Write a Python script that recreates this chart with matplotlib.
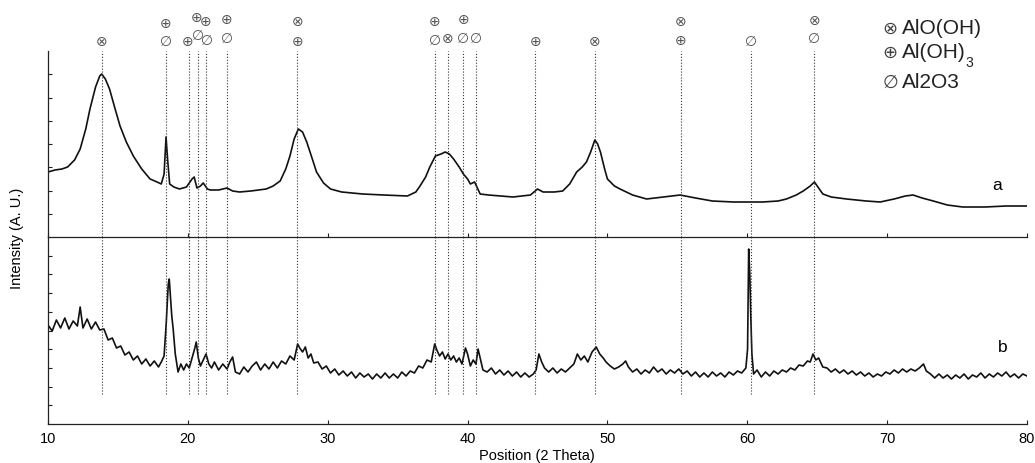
"""XRD patterns a / b with phase markers"""
import matplotlib; matplotlib.use('Agg')
import matplotlib.pyplot as plt; import numpy as np
import matplotlib.transforms as mtransforms
plt.rcParams['font.family']=['Liberation Sans','DejaVu Sans']

# pattern a (upper panel), intensity above its own baseline
a_x=[10.0,10.5,11.0,11.4,11.9,12.3,12.7,13.0,13.4,13.7,13.84,14.1,14.4,14.8,15.15,15.6,16.1,16.7,17.3,17.8,
     18.1,18.3,18.44,18.55,18.7,19.0,19.4,19.9,20.3,20.45,20.65,20.9,21.1,21.4,21.6,22.2,22.8,23.2,23.7,24.5,
     25.6,26.1,26.6,27.0,27.3,27.6,27.9,28.2,28.5,28.9,29.2,29.7,30.2,31.0,32.5,34.0,35.7,36.3,36.6,37.0,
     37.3,37.7,38.1,38.4,38.7,39.0,39.4,39.7,40.0,40.2,40.5,40.9,41.5,43.25,44.5,45.0,45.4,46.2,46.8,47.3,
     47.8,48.2,48.5,48.8,49.1,49.3,49.5,49.8,50.0,50.5,50.9,51.8,52.8,54.0,55.2,56.3,57.5,59.0,61.1,62.2,
     62.8,63.5,64.0,64.5,64.8,65.1,65.4,66.0,67.1,68.5,69.5,70.5,71.3,71.85,72.5,73.3,74.3,75.4,77.0,78.5,80.0]
a_y=[65,67,68,70,77,88,108,128,150,161,163,158,148,128,111,95,81,68,58,55,
     53,63,100,78,53,50,48,50,58,60,49,51,54,48,47,47,49,46,45,46,
     48,51,56,68,81,98,108,105,95,78,65,54,48,45,43,42,41,45,51,60,
     70,81,83,85,83,78,70,63,58,53,55,43,42,40,42,48,45,45,46,53,
     65,70,75,85,97,93,85,68,58,51,48,42,38,40,42,39,36,35,35,36,
     38,42,46,51,55,49,43,40,38,36,35,38,41,42,39,36,32,30,30,31,31]

# pattern b (lower panel)
b_x=[10.0,10.3,10.6,10.9,11.2,11.5,11.8,12.1,12.3,12.5,12.8,13.1,13.4,13.7,14.0,14.3,14.6,14.9,15.2,15.5,
     15.8,16.1,16.4,16.7,17.0,17.3,17.6,17.9,18.1,18.3,18.45,18.6,18.67,18.75,18.85,18.95,19.1,19.3,19.5,19.7,
     19.9,20.1,20.3,20.5,20.6,20.75,20.9,21.1,21.3,21.5,21.7,21.9,22.2,22.5,22.8,23.0,23.2,23.4,23.7,24.0,
     24.3,24.6,24.9,25.2,25.5,25.8,26.1,26.4,26.7,27.0,27.3,27.6,27.85,28.0,28.2,28.4,28.6,28.8,29.0,29.3,
     29.6,29.9,30.2,30.5,30.8,31.1,31.4,31.7,32.0,32.3,32.6,32.9,33.2,33.5,33.8,34.1,34.4,34.7,35.0,35.3,
     35.6,35.9,36.2,36.5,36.8,37.1,37.4,37.65,37.8,38.0,38.2,38.4,38.6,38.8,39.0,39.2,39.4,39.6,39.85,40.0,
     40.2,40.4,40.6,40.75,40.9,41.1,41.4,41.7,42.0,42.3,42.6,42.9,43.2,43.5,43.8,44.1,44.4,44.7,44.9,45.1,
     45.3,45.5,45.8,46.1,46.4,46.7,47.0,47.3,47.6,47.85,48.1,48.35,48.6,48.9,49.2,49.45,49.7,49.9,50.2,50.5,
     50.8,51.1,51.3,51.5,51.8,52.1,52.4,52.7,53.0,53.3,53.6,53.9,54.2,54.5,54.8,55.1,55.4,55.7,56.0,56.3,
     56.6,56.9,57.2,57.5,57.8,58.1,58.4,58.7,59.0,59.3,59.6,59.9,60.02,60.1,60.18,60.25,60.33,60.45,60.7,61.0,
     61.3,61.6,61.9,62.2,62.5,62.8,63.1,63.4,63.7,64.0,64.3,64.5,64.7,64.9,65.1,65.4,65.7,66.0,66.3,66.6,
     66.9,67.2,67.5,67.8,68.1,68.4,68.7,69.0,69.3,69.6,69.9,70.2,70.5,70.8,71.1,71.4,71.7,72.0,72.3,72.6,
     72.8,73.1,73.4,73.7,74.0,74.3,74.6,74.9,75.2,75.5,75.8,76.1,76.4,76.7,77.0,77.3,77.6,77.9,78.2,78.5,
     78.8,79.1,79.4,79.7,80.0]
b_y=[99,93,104,96,106,95,103,98,117,96,105,95,102,94,95,84,86,76,78,69,
     72,64,68,60,65,58,63,57,62,68,100,140,145,128,108,95,70,52,60,54,
     60,56,66,76,82,66,58,64,70,60,56,62,54,60,55,62,67,52,50,57,
     52,58,62,54,60,55,62,56,63,60,68,64,80,76,72,77,66,70,61,62,
     55,58,51,55,49,53,48,52,46,51,47,50,45,50,46,51,46,50,46,52,
     48,53,51,58,56,64,62,80,74,68,72,65,70,64,68,62,66,60,76,70,
     58,64,60,75,66,54,52,56,50,54,49,53,48,52,47,51,47,50,54,70,
     62,56,52,56,51,55,52,56,60,70,64,68,62,72,77,70,66,62,58,55,
     57,60,63,57,52,55,50,54,51,57,52,55,50,54,51,55,50,53,48,52,
     47,51,47,52,48,51,47,52,49,53,51,56,75,175,150,108,70,50,54,47,
     52,48,53,50,54,52,56,54,59,58,63,62,70,64,66,57,56,52,55,51,
     54,50,53,49,52,48,51,47,50,48,52,50,54,51,55,52,55,53,56,60,
     53,50,46,50,46,49,45,49,46,50,45,49,47,51,46,50,47,51,48,52,
     47,50,46,50,48]

# reference lines and their phase symbols
peak_pos=[13.84,18.44,20.1,20.72,21.27,22.78,27.83,37.67,38.58,39.7,40.6,44.84,49.11,55.26,60.24,64.79]
lab_x=[13.84,18.44,18.44,19.95,20.6,20.7,21.3,21.4,22.78,22.78,27.83,27.83,37.67,37.67,38.58,39.7,39.7,40.6,
       44.84,49.11,55.26,55.26,60.24,64.79,64.79]
lab_s=['⊗','⊕','∅','⊕','⊕','∅','⊕','∅','⊕','∅','⊗','⊕','⊕','∅','⊗','⊕','∅','∅',
       '⊕','⊗','⊗','⊕','∅','⊗','∅']
lab_px=[42,24,42,42,18,36,22,41,20,39,22,42,22,41,39,20,39,39,
        42,42,22,41,42,21,39]

W,H=1035,464
fig=plt.figure(figsize=(W/100,H/100),dpi=100)
L,R=48,1027; TOP,MID,BOT=52,238,425
axa=fig.add_axes([L/W,(H-MID)/H,(R-L)/W,(MID-TOP)/H])
axb=fig.add_axes([L/W,(H-BOT)/H,(R-L)/W,(BOT-MID)/H])
for ax in (axa,axb):
    for s in ('top','right'): ax.spines[s].set_visible(False)
    for s in ('left','bottom'): ax.spines[s].set_linewidth(0.9); ax.spines[s].set_color('#222')
    ax.set_xlim(10,80); ax.set_xticks(range(10,81,10))
    ax.tick_params(direction='in',length=3,width=0.8,color='#222',labelsize=10.5,pad=5)
    ax.patch.set_alpha(0)
axa.set_ylim(0,MID-TOP); axa.set_yticks(np.arange(1,8)*(MID-TOP)/8)
axb.set_ylim(0,BOT-MID); axb.set_yticks(np.arange(1,10)*(BOT-MID)/10)
axa.tick_params(labelbottom=False,labelleft=False)
axb.tick_params(labelleft=False)

axa.plot(a_x,a_y,color='#111',lw=1.2)
axb.plot(b_x,b_y,color='#111',lw=1.2)
for p in peak_pos:
    axa.axvline(p,color='#333',ls=':',lw=0.8)
    axb.axvline(p,ymin=30/(BOT-MID),ymax=1,color='#333',ls=':',lw=0.8)

tr=mtransforms.blended_transform_factory(axa.transData,axa.transAxes)
for x,s,py in zip(lab_x,lab_s,lab_px):
    axa.text(x,(MID-py)/(MID-TOP),s,transform=tr,ha='center',va='center',fontsize=10,
             color='#555',family=['DejaVu Sans'],clip_on=False)

fig.text(997/W,(H-186)/H,'a',fontsize=12.5,ha='center',va='center')
fig.text(1003/W,(H-348)/H,'b',fontsize=12.5,ha='center',va='center')

leg=[('⊗','AlO(OH)',29),('⊕','Al(OH)',53),('∅','Al2O3',83)]
for sym,txt,py in leg:
    fig.text(890/W,(H-py)/H,sym,fontsize=13,ha='center',va='center',color='#444',family=['DejaVu Sans'])
    fig.text(902/W,(H-py)/H,txt,fontsize=15,ha='left',va='center',color='#222')
fig.text(969/W,(H-63)/H,'3',fontsize=10,ha='center',va='center',color='#222')

fig.text(537/W,(H-456)/H,'Position (2 Theta)',fontsize=10.5,ha='center',va='center')
fig.text(17/W,(H-238)/H,'Intensity (A. U.)',fontsize=10.5,ha='center',va='center',rotation=90)
fig.savefig('out.png',dpi=100)
